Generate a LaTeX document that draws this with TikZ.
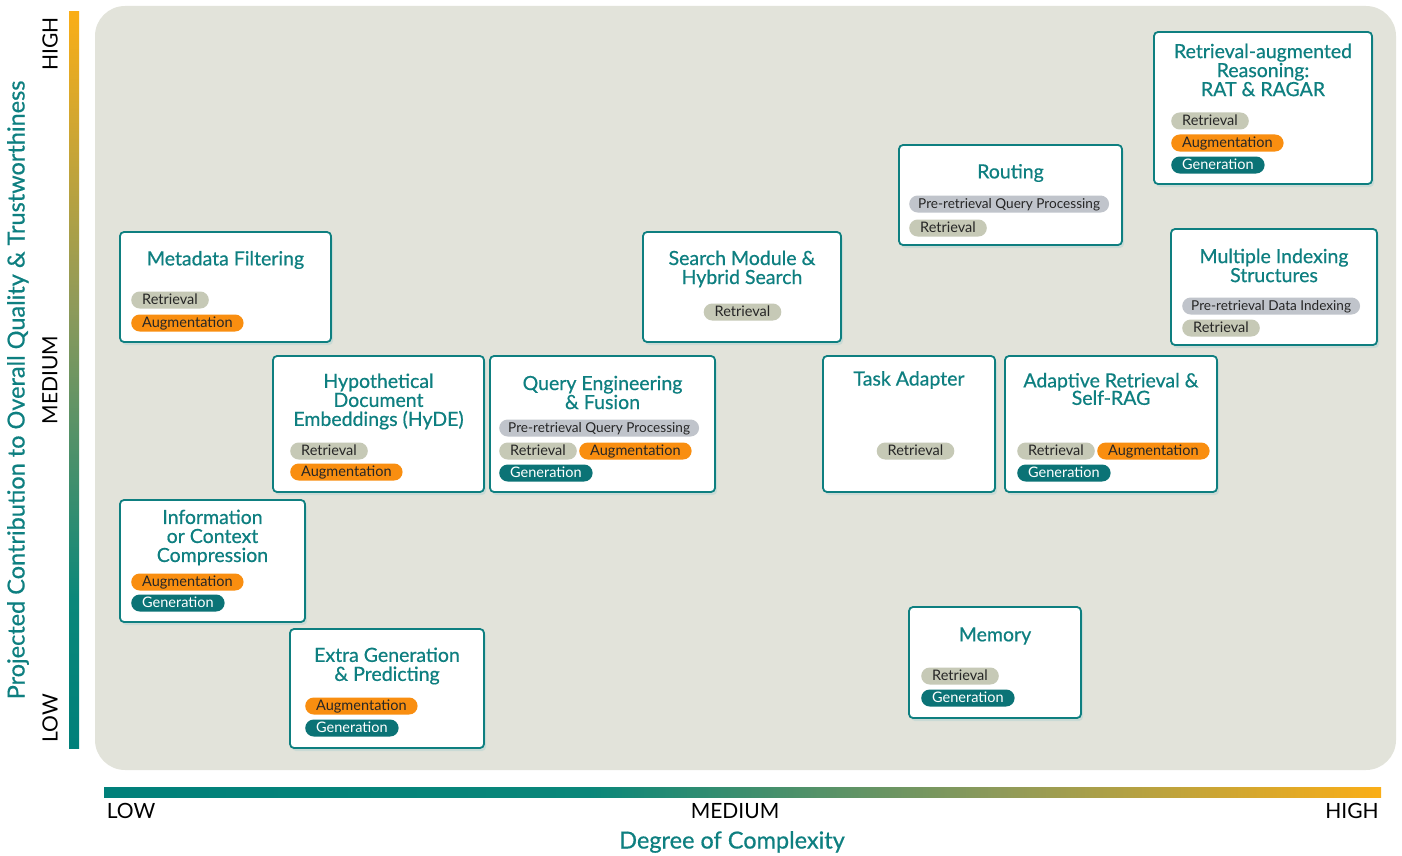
\documentclass[tikz,border=0pt]{standalone}
\usepackage{fontspec}
\setmainfont{Lato}
\newfontfamily\cardfont{Lato}[FakeBold=0.6]
\usetikzlibrary{positioning,shadows}

\definecolor{ragteal}{HTML}{0E7F80}
\definecolor{barteal}{HTML}{00807A}
\definecolor{barmid}{HTML}{0A877A}
\definecolor{barolive}{HTML}{8E9A5A}
\definecolor{barorange}{HTML}{FAAE17}
\definecolor{panelgray}{HTML}{E2E3DA}
\definecolor{tagretc}{HTML}{C6C9B6}
\definecolor{tagaugc}{HTML}{F98E10}
\definecolor{taggenc}{HTML}{0B7376}
\definecolor{tagprec}{HTML}{C0C4CB}

% colour ramps of the two axes (path spans 25bp..75bp)
\pgfdeclarehorizontalshading{cplxshade}{100bp}{color(0bp)=(barteal); color(25bp)=(barteal);
  color(44bp)=(barmid); color(60bp)=(barolive); color(75bp)=(barorange); color(100bp)=(barorange)}
\pgfdeclareverticalshading{qualshade}{100bp}{color(0bp)=(barteal); color(25bp)=(barteal);
  color(35bp)=(barmid); color(55bp)=(barolive); color(75bp)=(barorange); color(100bp)=(barorange)}

\begin{document}
\begin{tikzpicture}[
  x=1pt,y=-1pt,
  card/.style={rectangle,rounded corners=4pt,draw=ragteal,line width=1.8pt,fill=white,
               drop shadow={shadow xshift=2pt,shadow yshift=-3pt,opacity=0.35,fill=ragteal!40}},
  ttl/.style={text=ragteal,font=\cardfont\fontsize{19.5}{19}\selectfont,align=center,inner sep=0pt},
  tag/.style={rectangle,rounded corners=8.5pt,minimum height=17pt,inner xsep=11pt,inner ysep=0pt,
              text height=10.5pt,text depth=2.5pt,font=\fontsize{14.5}{14.5}\selectfont,anchor=west},
  tret/.style={tag,fill=tagretc,text=black!85},
  taug/.style={tag,fill=tagaugc,text=black!85},
  tgen/.style={tag,fill=taggenc,text=white},
  tpre/.style={tag,fill=tagprec,text=black!85,inner xsep=9pt,font=\fontsize{13.6}{14}\selectfont},
  axlbl/.style={font=\fontsize{21}{21}\selectfont,text=black,inner sep=0pt},
  axttl/.style={font=\cardfont\fontsize{23.5}{24}\selectfont,text=ragteal,inner sep=0pt},
]
\useasboundingbox (0,0) rectangle (1402,856);

% ---------- background panel and axes ----------
\fill[panelgray,rounded corners=30pt] (95,6) rectangle (1396,770);
\shade[shading=qualshade] (69,12) rectangle (79,748);
\shade[shading=cplxshade] (104,787) rectangle (1381,797);

\node[axlbl,rotate=90] (yHigh) at (50,44) {HIGH};
\node[axlbl,rotate=90] (yMed) at (50,380) {MEDIUM};
\node[axlbl,rotate=90] (yLow) at (50,718) {LOW};
\node[axlbl] (xLow) at (131,811) {LOW};
\node[axlbl] (xMed) at (735,811) {MEDIUM};
\node[axlbl] (xHigh) at (1352,811) {HIGH};
\node[axttl,rotate=90] (yTitle) at (18,390) {Projected Contribution to Overall Quality \& Trustworthiness};
\node[axttl] (xTitle) at (732,842) {Degree of Complexity};

% ---------- left column ----------
\node[card,minimum width=211pt,minimum height=110pt] (metaCard) at (225.5,287) {};
\node[ttl] (metaT) at (225.5,260) {Metadata Filtering};
\node[tret] (metaRet) at (131,300) {Retrieval};
\node[taug] (metaAug) at (131,323) {Augmentation};

\node[card,minimum width=185pt,minimum height=122pt] (infoCard) at (212.5,561) {};
\node[ttl] (infoT) at (212.5,537.5) {Information\\or Context\\Compression};
\node[taug] (infoAug) at (131,582) {Augmentation};
\node[tgen] (infoGen) at (131,603) {Generation};

\node[card,minimum width=211pt,minimum height=136pt] (hydeCard) at (378.5,424) {};
\node[ttl] (hydeT) at (378.5,401.5) {Hypothetical\\Document\\Embeddings (HyDE)};
\node[tret] (hydeRet) at (290,451) {Retrieval};
\node[taug] (hydeAug) at (290,472) {Augmentation};

\node[card,minimum width=194pt,minimum height=119pt] (extraCard) at (387,688.5) {};
\node[ttl] (extraT) at (387,666) {Extra Generation\\\& Predicting};
\node[taug] (extraAug) at (305,706) {Augmentation};
\node[tgen] (extraGen) at (305,728) {Generation};

% ---------- middle ----------
\node[card,minimum width=225pt,minimum height=136pt] (qryCard) at (602.5,424) {};
\node[ttl] (qryT) at (602.5,392.5) {Query Engineering\\\& Fusion};
\node[tpre] (qryPre) at (499,428) {Pre-retrieval Query Processing};
\node[tret] (qryRet) at (499,451) {Retrieval};
\node[taug,right=2pt of qryRet] (qryAug) {Augmentation};
\node[tgen] (qryGen) at (499,473) {Generation};

\node[card,minimum width=198pt,minimum height=110pt] (searchCard) at (742,287) {};
\node[ttl] (searchT) at (742,269) {Search Module \&\\Hybrid Search};
\node[tret,anchor=center] (searchRet) at (742.5,312) {Retrieval};

\node[card,minimum width=172pt,minimum height=136pt] (taskCard) at (909,424) {};
\node[ttl] (taskT) at (909,380) {Task Adapter};
\node[tret,anchor=center] (taskRet) at (915.5,451) {Retrieval};

\node[card,minimum width=172pt,minimum height=111pt] (memCard) at (995,662.5) {};
\node[ttl] (memT) at (995,636) {Memory};
\node[tret] (memRet) at (921,676) {Retrieval};
\node[tgen] (memGen) at (921,698) {Generation};

% ---------- right column ----------
\node[card,minimum width=223pt,minimum height=100pt] (routeCard) at (1010.5,195) {};
\node[ttl] (routeT) at (1010.5,173) {Routing};
\node[tpre] (routePre) at (909,204) {Pre-retrieval Query Processing};
\node[tret] (routeRet) at (909,228) {Retrieval};

\node[card,minimum width=212pt,minimum height=136pt] (adaptCard) at (1111,424) {};
\node[ttl] (adaptT) at (1111,389) {Adaptive Retrieval \&\\[-1.5pt]Self-RAG};
\node[tret] (adaptRet) at (1017,451) {Retrieval};
\node[taug,right=2pt of adaptRet] (adaptAug) {Augmentation};
\node[tgen] (adaptGen) at (1017,473) {Generation};

\node[card,minimum width=218pt,minimum height=152pt] (ratCard) at (1263,108) {};
\node[ttl] (ratT) at (1263,70) {Retrieval-augmented\\Reasoning:\\RAT \& RAGAR};
\node[tret] (ratRet) at (1171,121) {Retrieval};
\node[taug] (ratAug) at (1171,143) {Augmentation};
\node[tgen] (ratGen) at (1171,165) {Generation};

\node[card,minimum width=206pt,minimum height=116pt] (multiCard) at (1274,287) {};
\node[ttl] (multiT) at (1274,265.5) {Multiple Indexing\\Structures};
\node[tpre] (multiPre) at (1182,306) {Pre-retrieval Data Indexing};
\node[tret] (multiRet) at (1182,328) {Retrieval};
\end{tikzpicture}
\end{document}
